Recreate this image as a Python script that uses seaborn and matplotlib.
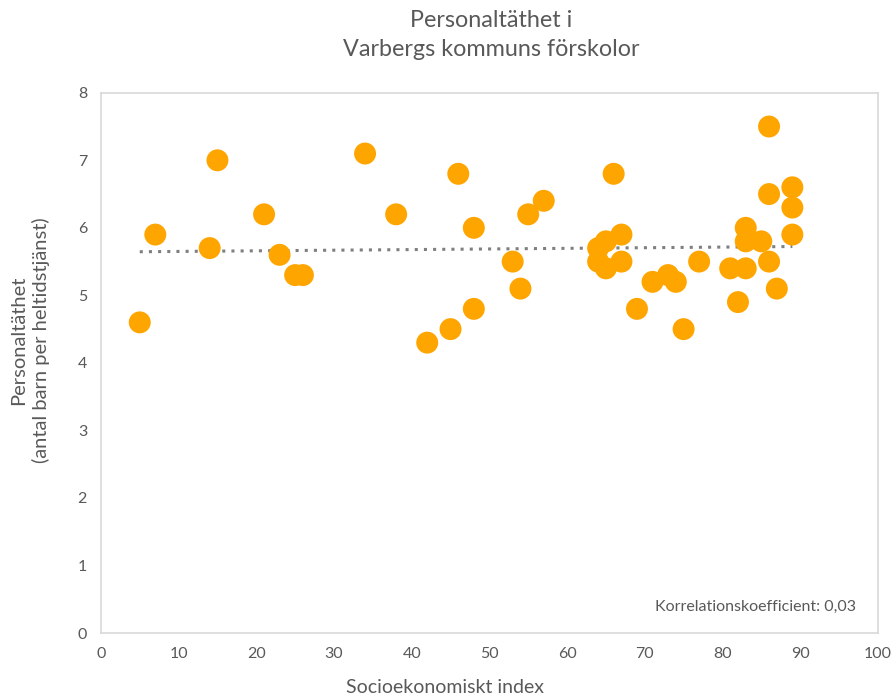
import numpy as np
import matplotlib
matplotlib.use("Agg")
import matplotlib.pyplot as plt
import seaborn as sns

# Socioekonomiskt index per förskola
socio_index = [5, 7, 14, 15, 21, 23, 25, 26, 34, 38,
               42, 45, 46, 48, 48, 53, 54, 55, 57,
               64, 64, 65, 65, 66, 67, 67, 69, 71, 73, 74, 75, 77,
               81, 82, 83, 83, 83, 85, 86, 86, 86, 87, 89, 89, 89]
# Personaltäthet (antal barn per heltidstjänst)
personal = [4.6, 5.9, 5.7, 7.0, 6.2, 5.6, 5.3, 5.3, 7.1, 6.2,
            4.3, 4.5, 6.8, 6.0, 4.8, 5.5, 5.1, 6.2, 6.4,
            5.7, 5.5, 5.8, 5.4, 6.8, 5.9, 5.5, 4.8, 5.2, 5.3, 5.2, 4.5, 5.5,
            5.4, 4.9, 6.0, 5.8, 5.4, 5.8, 7.5, 6.5, 5.5, 5.1, 6.6, 6.3, 5.9]

x_ticks = list(range(0, 101, 10))
y_ticks = list(range(0, 9))
korr_text = "Korrelationskoefficient: 0,03"

sns.set_theme(style="white")
plt.rcParams["font.family"] = ["Lato", "DejaVu Sans"]
txt_color = "#595959"

fig = plt.figure(figsize=(8.93, 6.98), dpi=100)
ax = fig.add_axes([0.113, 0.0931, 0.870, 0.774])

sns.scatterplot(x=socio_index, y=personal, ax=ax, s=250, color="#FFA500",
                edgecolor="none", linewidth=0, zorder=3)

# linjär trendlinje
xs = np.array(socio_index, dtype=float)
ys = np.array(personal, dtype=float)
k, m = np.polyfit(xs, ys, 1)
xl = np.array([xs.min(), xs.max()])
ax.plot(xl, k * xl + m, linestyle=(0, (1, 2)), color="#7F7F7F", lw=2.2, zorder=2)

ax.set_xlim(0, 100)
ax.set_ylim(0, 8)
ax.set_xticks(x_ticks)
ax.set_yticks(y_ticks)
ax.tick_params(axis="both", length=0, labelsize=11.5, colors=txt_color, pad=10)
for sp in ax.spines.values():
    sp.set_color("#D9D9D9")
    sp.set_linewidth(1.2)
ax.grid(False)

fig.text(0.550, 0.985, "Personaltäthet i\nVarbergs kommuns förskolor",
         ha="center", va="top", fontsize=16.8, color=txt_color, linespacing=1.45)
fig.text(0.498, 0.015, "Socioekonomiskt index", ha="center", va="center",
         fontsize=14, color=txt_color)
fig.text(0.034, 0.512, "Personaltäthet\n(antal barn per heltidstjänst)",
         ha="center", va="center", rotation=90, fontsize=14.5, color=txt_color,
         linespacing=1.3)
ax.text(0.972, 0.048, korr_text, transform=ax.transAxes, ha="right", va="center",
        fontsize=11.5, color=txt_color)

fig.savefig("out.png", dpi=100)
